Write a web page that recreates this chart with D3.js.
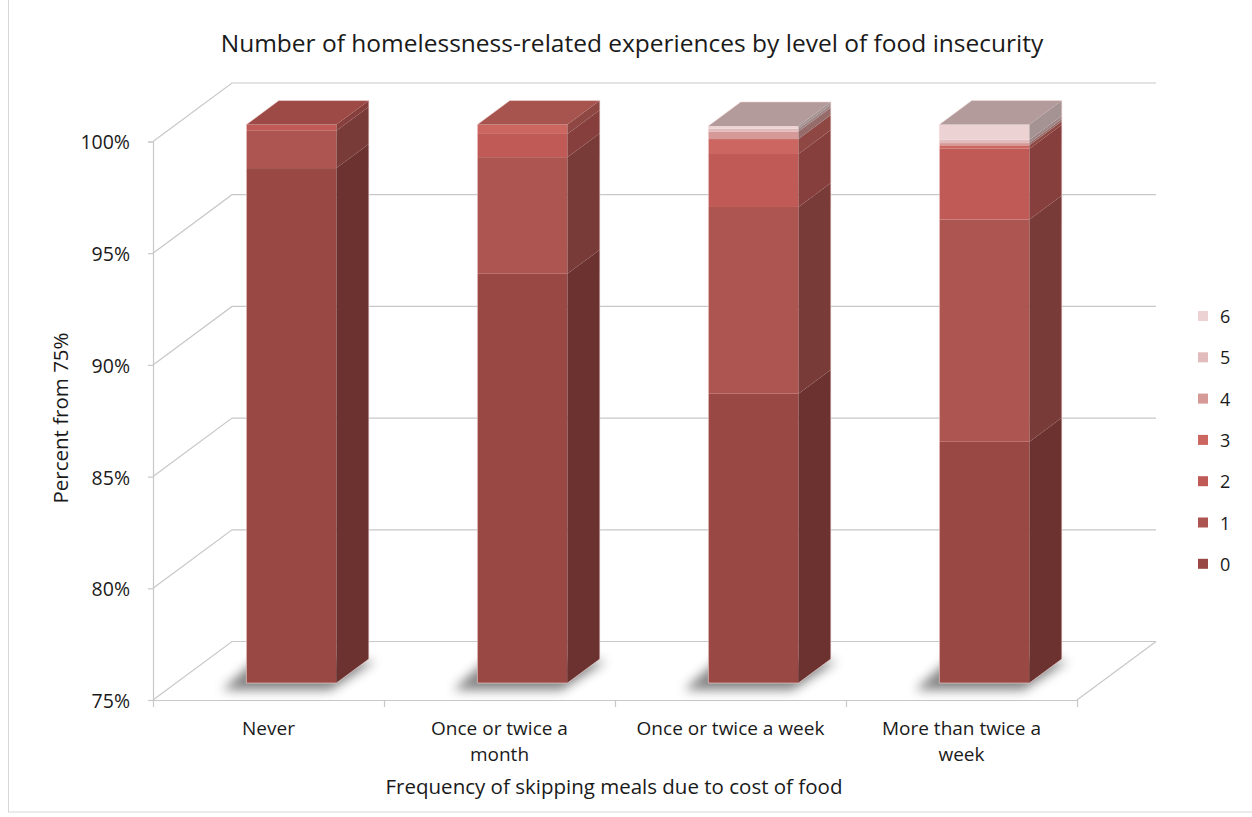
<!DOCTYPE html>
<html>
<head>
<meta charset="utf-8">
<script src="https://cdn.jsdelivr.net/npm/d3@7"></script>
<style>
  html, body { margin: 0; padding: 0; background: #fff; }
  svg { display: block; }
  text { font-family: "Open Sans", Lato, sans-serif; fill: #1a1a1a; }
</style>
</head>
<body>
<svg id="chart" width="1252" height="817"></svg>
<script>
// ---------- data ----------
const title = "Number of homelessness-related experiences by level of food insecurity";
const yTitle = "Percent from 75%";
const xTitle = "Frequency of skipping meals due to cost of food";
const categories = ["Never", "Once or twice a month", "Once or twice a week", "More than twice a week"];
const categoryLines = [["Never"], ["Once or twice a", "month"], ["Once or twice a week"], ["More than twice a", "week"]];
const seriesKeys = ["0", "1", "2", "3", "4", "5", "6"];
const s0 = [98.05, 93.32, 87.95, 85.80];
const s1 = [1.67, 5.22, 8.36, 9.95];
const s2 = [0.28, 1.04, 2.37, 3.17];
const s3 = [0.00, 0.42, 0.67, 0.15];
const s4 = [0.00, 0.00, 0.34, 0.10];
const s5 = [0.00, 0.00, 0.12, 0.15];
const s6 = [0.00, 0.00, 0.13, 0.68];
const yTicks = [75, 80, 85, 90, 95, 100];
const seriesColors = ["#9a4844", "#ad5550", "#bf5a56", "#cb6660", "#d59a98", "#e2bcbd", "#ecd2d3"];

const seriesValues = [s0, s1, s2, s3, s4, s5, s6];

// ---------- layout ----------
const svg = d3.select("#chart");
const W = 1252, H = 817;
const front = { left: 153, right: 1077, top: 141.5, bottom: 700 };
const depth = { dx: 79, dy: 58.5 };
const barF1 = 0.29, barF2 = 0.70, barFrac = 0.39;
const gridColor = "#c8c8c8";

const y = d3.scaleLinear().domain([75, 100]).range([front.bottom, front.top]);
const x = d3.scaleBand().domain(categories).range([front.left, front.right]);

// outer frame
svg.append("rect").attr("x", 8.5).attr("y", -2).attr("width", W - 5).attr("height", 814)
  .attr("fill", "none").attr("stroke", "#d6d6d6");

// defs: blur for shadow
const defs = svg.append("defs");
defs.append("filter").attr("id", "blur").attr("x", "-40%").attr("y", "-100%").attr("width", "180%").attr("height", "300%")
  .append("feGaussianBlur").attr("stdDeviation", 5.5);

// ---------- gridlines (back wall + left wall) ----------
const grid = svg.append("g");
yTicks.forEach(t => {
  const yf = y(t);
  grid.append("polyline")
    .attr("points", [[front.left, yf], [front.left + depth.dx, yf - depth.dy], [front.right + depth.dx, yf - depth.dy]].join(" "))
    .attr("fill", "none").attr("stroke", gridColor).attr("stroke-width", 1.2);
});
// floor right edge
grid.append("line")
  .attr("x1", front.right).attr("y1", y(75)).attr("x2", front.right + depth.dx).attr("y2", y(75) - depth.dy)
  .attr("stroke", gridColor).attr("stroke-width", 1.2);

// ---------- axes ----------
const yAxis = d3.axisLeft(y).tickValues(yTicks).tickFormat(d => d + "%").tickSize(5).tickPadding(18);
const yAxisG = svg.append("g").attr("transform", `translate(${front.left},0)`).call(yAxis);
yAxisG.select(".domain").attr("stroke", gridColor).attr("stroke-width", 1.2);
yAxisG.selectAll(".tick line").attr("stroke", gridColor).attr("stroke-width", 1.2);
yAxisG.selectAll(".tick text").style("font-family", "'Open Sans', sans-serif").style("font-size", "19.5px").attr("fill", "#1a1a1a").attr("dy", "0.38em");

const xb = d3.scaleLinear().domain([0, categories.length]).range([front.left, front.right]);
const xAxis = d3.axisBottom(xb).ticks(categories.length).tickFormat("").tickSize(7).tickSizeOuter(0);
const xAxisG = svg.append("g").attr("transform", `translate(0,${front.bottom})`).call(xAxis);
xAxisG.select(".domain").attr("stroke", gridColor).attr("stroke-width", 1.2);
xAxisG.selectAll(".tick line").attr("stroke", gridColor).attr("stroke-width", 1.2);

// category labels (each line as its own text)
categories.forEach((c, i) => {
  categoryLines[i].forEach((ln, j) => {
    svg.append("text").attr("x", x(c) + x.bandwidth() / 2).attr("y", 735 + j * 26)
      .attr("text-anchor", "middle").style("font-size", "19px").text(ln);
  });
});

// ---------- bars ----------
const barW = x.bandwidth() * barFrac;
const bdx = (barF2 - barF1) * depth.dx, bdy = (barF2 - barF1) * depth.dy;
const bars = svg.append("g");

categories.forEach((c, i) => {
  const x0 = x(c) + (x.bandwidth() - barW) / 2 + barF1 * depth.dx;
  const x1 = x0 + barW;
  const off = barF1 * depth.dy;
  const yb = y(75) - off;
  // shadow
  bars.append("polygon")
    .attr("points", [[x0 - 24, yb + 7], [x1 - 6, yb + 7], [x1 + bdx + 6, yb - bdy + 2], [x0 + bdx - 24, yb - bdy + 2]].join(" "))
    .attr("fill", "#505050").attr("opacity", 0.7).attr("filter", "url(#blur)");

  let cum = 0;
  let topIdx = 0;
  seriesValues.forEach((arr, k) => {
    const v = arr[i];
    if (v <= 0) return;
    const v0 = Math.max(cum, 75), v1 = cum + v;
    cum = v1;
    topIdx = k;
    if (v1 <= 75) return;
    const ya = y(v0) - off, yc = y(v1) - off;
    const col = d3.rgb(seriesColors[k]);
    // front face
    bars.append("rect").attr("x", x0).attr("y", yc).attr("width", barW).attr("height", ya - yc)
      .attr("fill", col.formatHex());
    // side face
    bars.append("polygon")
      .attr("points", [[x1, ya], [x1, yc], [x1 + bdx, yc - bdy], [x1 + bdx, ya - bdy]].join(" "))
      .attr("fill", col.darker(1).formatHex());
  });
  // top face
  const yt = y(cum) - off;
  const topCol = d3.rgb(seriesColors[topIdx]);
  const topFill = topIdx >= 4 ? d3.rgb(topCol.r * 0.76, topCol.g * 0.74, topCol.b * 0.74) : topCol.darker(0.55);
  bars.append("polygon")
    .attr("points", [[x0, yt], [x1, yt], [x1 + bdx, yt - bdy], [x0 + bdx, yt - bdy]].join(" "))
    .attr("fill", topFill.formatHex());
  // light outline
  bars.append("polyline")
    .attr("points", [[x0, yb], [x0, yt], [x0 + bdx, yt - bdy], [x1 + bdx, yt - bdy], [x1 + bdx, yb - bdy], [x1, yb], [x0, yb]].join(" "))
    .attr("fill", "none").attr("stroke", "#f3dada").attr("stroke-opacity", 0.6).attr("stroke-width", 1);
});

// ---------- legend ----------
const legend = svg.append("g");
seriesKeys.slice().reverse().forEach((k, j) => {
  const idx = seriesKeys.length - 1 - j;
  const cy = 316 + j * 41.3;
  legend.append("rect").attr("x", 1198).attr("y", cy - 5).attr("width", 10).attr("height", 10)
    .attr("fill", seriesColors[idx]);
  legend.append("text").attr("x", 1220).attr("y", cy + 7).style("font-size", "18px").text(k);
});

// ---------- titles ----------
svg.append("text").attr("x", 632).attr("y", 52).attr("text-anchor", "middle")
  .style("font-size", "24.5px").text(title);
svg.append("text").attr("transform", "translate(68,418) rotate(-90)").attr("text-anchor", "middle")
  .style("font-size", "20.5px").text(yTitle);
svg.append("text").attr("x", 614).attr("y", 794).attr("text-anchor", "middle")
  .style("font-size", "20.5px").text(xTitle);
</script>
</body>
</html>
